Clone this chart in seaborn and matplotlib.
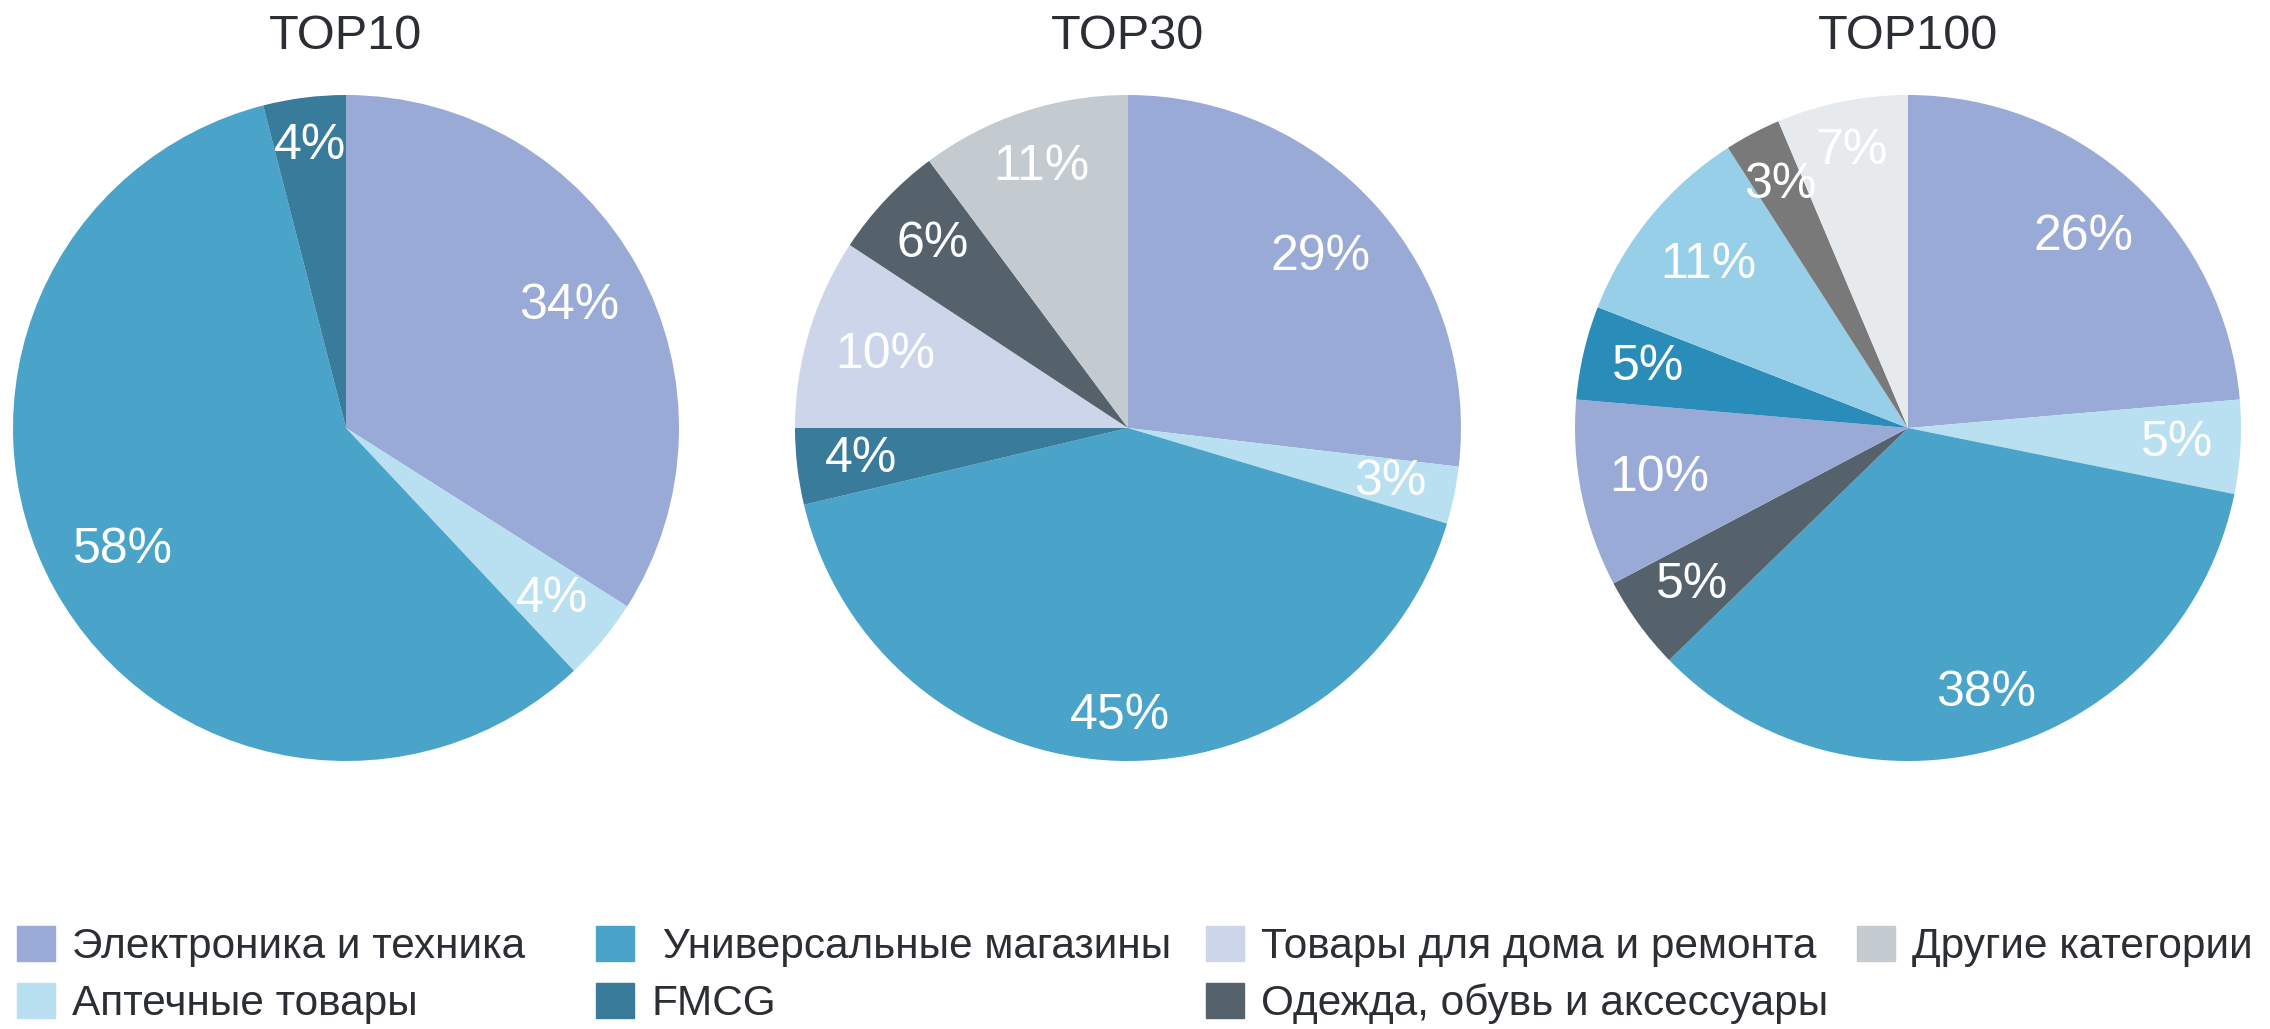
import matplotlib
matplotlib.use("Agg")
import numpy as np
import matplotlib.pyplot as plt
import matplotlib.patches as mpatches
import seaborn as sns

sns.set_theme(style="white")
plt.rcParams["font.family"] = ["Liberation Sans", "DejaVu Sans"]

# legend categories and their colours
categories = ["Электроника и техника", "Аптечные товары", " Универсальные магазины", "FMCG",
              "Товары для дома и ремонта", "Одежда, обувь и аксессуары", "Другие категории"]
cat_colors = ["#99AAD6", "#B8E0F0", "#4AA3C9", "#387B9B", "#CCD5EA", "#55626C", "#C3CBD1"]

titles = ["TOP10", "TOP30", "TOP100"]

# shares as labelled on the chart (clockwise from 12 o'clock)
top10_values = [34, 4, 58, 4]
top10_colors = ["#99AAD6", "#B8E0F0", "#4AA3C9", "#387B9B"]

top30_values = [29, 3, 45, 4, 10, 6, 11]
top30_colors = ["#99AAD6", "#B8E0F0", "#4AA3C9", "#387B9B", "#CCD5EA", "#55626C", "#C3CBD1"]

top100_values = [26, 5, 38, 5, 10, 5, 11, 3, 7]
top100_colors = ["#99AAD6", "#B8E0F0", "#4AA3C9", "#55626C", "#99AAD6", "#2A8CB8",
                 "#97CFE8", "#797979", "#E6EAED"]

W, H = 2270, 1029
fig = plt.figure(figsize=(W / 100, H / 100), dpi=100)

centers = [(346, 428), (1128, 428), (1908, 428)]
r = 333
data = [(top10_values, top10_colors), (top30_values, top30_colors), (top100_values, top100_colors)]

pies = []
for (cx, cy), title, (vals, cols) in zip(centers, titles, data):
    ax = fig.add_axes([(cx - r) / W, (H - cy - r) / H, 2 * r / W, 2 * r / H])
    total = sum(vals)
    wedges, _, autotexts = ax.pie(vals, colors=cols, startangle=90, counterclock=False,
                                  autopct=lambda p, t=total: f"{round(p * t / 100):.0f}%",
                                  pctdistance=0.8, radius=1,
                                  textprops=dict(color="white", fontsize=36),
                                  wedgeprops=dict(linewidth=0))
    ax.set_xlim(-1, 1)
    ax.set_ylim(-1, 1)
    ax.set_aspect("equal")
    ax.set_title(title, fontsize=35, color="#2B2F33", pad=33)
    pies.append((wedges, autotexts))

# push each label out so its box sits just inside the rim
fig.canvas.draw()
renderer = fig.canvas.get_renderer()
for wedges, autotexts in pies:
    for w, t in zip(wedges, autotexts):
        ang = np.deg2rad((w.theta1 + w.theta2) / 2)
        bb = t.get_window_extent(renderer)
        hw = bb.width / 2 / r
        hh = bb.height / 2 / r * 0.75
        d = 0.92 - (hw * abs(np.cos(ang)) + hh * abs(np.sin(ang)))
        t.set_position((d * np.cos(ang), d * np.sin(ang)))

# legend: one block per column, like the original layout
handles = [mpatches.Patch(color=c, label=l) for c, l in zip(cat_colors, categories)]
col_groups = [[0, 1], [2, 3], [4, 5], [6]]
col_x = [17, 596, 1206, 1857]
for grp, x in zip(col_groups, col_x):
    leg = fig.legend(handles=[handles[i] for i in grp], loc="upper left",
                     bbox_to_anchor=((x - 4) / W, 0.104), frameon=False, fontsize=30.5,
                     handlelength=0.9, handleheight=0.9, handletextpad=0.4,
                     labelspacing=0.37, labelcolor="#2B2F33",
                     borderaxespad=0.0, borderpad=0.1)

fig.savefig("out.png", dpi=100, facecolor="white")
